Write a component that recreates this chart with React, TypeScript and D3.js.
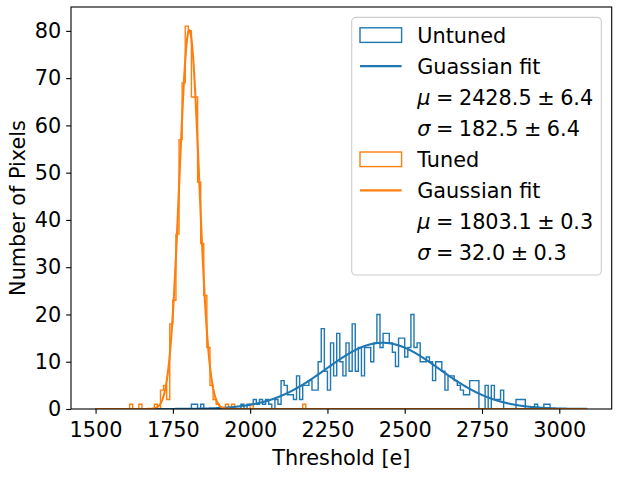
import { useEffect, useRef } from 'react';
import * as d3 from 'd3';

// Threshold histogram: 10 e bins from 1500 e to 3090 e
const binStart = 1500;
const binEnd = 3090;
const binWidth = 10;

// Non-empty bins of the untuned scan, as [lower edge, pixels]
const untunedBins: [number, number][] = [
    [1810, 1], [1820, 1], [1840, 1], [1970, 1], [1990, 1], [2000, 1],
    [2010, 2], [2020, 1], [2030, 2], [2040, 1], [2050, 2], [2060, 1], [2080, 2], [2090, 1],
    [2100, 6], [2110, 5], [2120, 3], [2130, 3], [2140, 2], [2150, 7], [2160, 2], [2170, 5], [2180, 5], [2190, 6],
    [2200, 4], [2210, 4], [2220, 10], [2230, 17], [2240, 8], [2250, 4], [2260, 14], [2270, 7], [2280, 16], [2290, 10],
    [2300, 7], [2310, 14], [2320, 8], [2330, 18], [2340, 8], [2350, 13], [2360, 7], [2370, 13], [2380, 13], [2390, 10],
    [2400, 14], [2410, 20], [2420, 13], [2430, 16], [2440, 16], [2450, 14], [2460, 12], [2470, 9], [2480, 15], [2490, 15],
    [2500, 11], [2510, 13], [2520, 20], [2530, 13], [2540, 14], [2550, 10], [2560, 10], [2570, 11], [2580, 10], [2590, 6],
    [2600, 10], [2610, 10], [2620, 8], [2630, 4], [2640, 7], [2650, 7], [2660, 6], [2670, 5], [2680, 4], [2690, 3],
    [2700, 3], [2710, 6], [2720, 6], [2730, 6], [2760, 5], [2780, 5], [2790, 2], [2800, 2], [2810, 4],
    [2860, 2], [2870, 2], [2880, 2], [2920, 1], [2950, 1], [2960, 1],
];

// Non-empty bins of the tuned scan
const tunedBins: [number, number][] = [
    [1610, 1], [1640, 1], [1690, 1], [1710, 4], [1720, 5], [1730, 2], [1740, 18], [1750, 23],
    [1760, 37], [1770, 57], [1780, 69], [1790, 81], [1800, 80], [1810, 66], [1820, 66], [1830, 48],
    [1840, 35], [1850, 24], [1860, 13], [1870, 5], [1880, 2], [1890, 1], [1920, 1], [1940, 1],
    [2000, 1], [2170, 1],
];

// Gaussian fit results, untuned first
const seriesNames = ['Untuned', 'Tuned'];
const fitNames = ['Guassian fit', 'Gaussian fit'];
const fitMu = [2428.5, 1803.1];
const fitMuErr = [6.4, 0.3];
const fitSigma = [182.5, 32.0];
const fitSigmaErr = [6.4, 0.3];
const seriesColors = ['#1f77b4', '#ff7f0e'];

const xTicks = [1500, 1750, 2000, 2250, 2500, 2750, 3000];
const yTicks = [0, 10, 20, 30, 40, 50, 60, 70, 80];

interface Bin {
    x0: number;
    x1: number;
    count: number;
}

function fillBins(pairs: [number, number][]): Bin[] {
    const lookup = new Map(pairs);
    return d3.range(binStart, binEnd, binWidth).map(e => ({ x0: e, x1: e + binWidth, count: lookup.get(e) ?? 0 }));
}

export default function App() {
    const svgRef = useRef<SVGSVGElement | null>(null);

    useEffect(() => {
        if (!svgRef.current) return;
        const svg = d3.select(svgRef.current);
        svg.selectAll('*').remove();

        const fs = 20.8; // 15 pt
        const font = '"DejaVu Sans", sans-serif';
        const plot = { left: 71, right: 611.7, top: 7, bottom: 409 };
        const tickLen = 4.86;

        const hists = [fillBins(untunedBins), fillBins(tunedBins)];
        const yMax = (d3.max(hists.flat(), d => d.count) ?? 0) * 1.05;
        const span = binEnd - binStart;

        const x = d3.scaleLinear().domain([binStart - 0.05 * span, binEnd + 0.05 * span]).range([plot.left, plot.right]);
        const y = d3.scaleLinear().domain([0, yMax]).range([plot.bottom, plot.top]);

        svg.append('defs').append('clipPath').attr('id', 'plot-clip')
            .append('rect')
            .attr('x', plot.left).attr('y', plot.top)
            .attr('width', plot.right - plot.left).attr('height', plot.bottom - plot.top);

        const area = svg.append('g').attr('clip-path', 'url(#plot-clip)');
        const line = d3.line<[number, number]>().x(d => x(d[0])).y(d => y(d[1]));

        // step outlines first (patches), fitted curves above them
        hists.forEach((bins, i) => {
            const pts: [number, number][] = [[binStart, 0]];
            bins.forEach(b => { pts.push([b.x0, b.count], [b.x1, b.count]); });
            pts.push([binEnd, 0]);
            area.append('path')
                .attr('d', line(pts))
                .attr('fill', 'none')
                .attr('stroke', seriesColors[i])
                .attr('stroke-width', 1.4)
                .attr('stroke-linejoin', 'miter');
        });

        hists.forEach((bins, i) => {
            const total = d3.sum(bins, b => b.count);
            const amp = total * binWidth / (fitSigma[i] * Math.sqrt(2 * Math.PI));
            const pts: [number, number][] = d3.range(binStart, binEnd + 0.5, 1).map(t =>
                [t, amp * Math.exp(-0.5 * ((t - fitMu[i]) / fitSigma[i]) ** 2)]);
            area.append('path')
                .attr('d', line(pts))
                .attr('fill', 'none')
                .attr('stroke', seriesColors[i])
                .attr('stroke-width', 2.1)
                .attr('stroke-linejoin', 'round');
        });

        // axes
        const xAxis = svg.append('g').attr('transform', `translate(0,${plot.bottom})`)
            .call(d3.axisBottom(x).tickValues(xTicks).tickSize(tickLen).tickPadding(tickLen + 4).tickFormat(d3.format('d')));
        const yAxis = svg.append('g').attr('transform', `translate(${plot.left},0)`)
            .call(d3.axisLeft(y).tickValues(yTicks).tickSize(tickLen).tickPadding(tickLen).tickFormat(d3.format('d')));
        [xAxis, yAxis].forEach(a => {
            a.select('.domain').remove();
            a.selectAll('line').attr('stroke', '#000').attr('stroke-width', 1.1);
            a.selectAll('text').attr('fill', '#000').style('font-family', font).style('font-size', `${fs}px`);
        });

        svg.append('rect')
            .attr('x', plot.left).attr('y', plot.top)
            .attr('width', plot.right - plot.left).attr('height', plot.bottom - plot.top)
            .attr('fill', 'none').attr('stroke', '#000').attr('stroke-width', 1.1);

        svg.append('text')
            .attr('x', (plot.left + plot.right) / 2).attr('y', 464.5)
            .attr('text-anchor', 'middle')
            .style('font-family', font).style('font-size', `${fs}px`)
            .text('Threshold [e]');

        svg.append('text')
            .attr('transform', `translate(24.5,${(plot.top + plot.bottom) / 2}) rotate(-90)`)
            .attr('text-anchor', 'middle')
            .style('font-family', font).style('font-size', `${fs}px`)
            .text('Number of Pixels');

        // legend
        const legend = svg.append('g');
        legend.append('rect')
            .attr('x', 351.7).attr('y', 17.4)
            .attr('width', 601.3 - 351.7).attr('height', 257.6)
            .attr('rx', 4.2)
            .attr('fill', 'white').attr('fill-opacity', 0.8)
            .attr('stroke', '#cccccc').attr('stroke-width', 1.1);

        const handleX = 360;
        const handleW = 2.0 * fs;
        const textX = handleX + handleW + 0.8 * fs - 1;
        const rowStep = 31.05;
        const firstBase = 42.6;
        const opPad = 5.5;

        const addText = (yy: number) => legend.append('text')
            .attr('x', textX).attr('y', yy)
            .style('font-family', font).style('font-size', `${fs}px`);

        const mathRow = (yy: number, sym: string, val: number, err: number) => {
            const t = addText(yy);
            t.append('tspan').style('font-style', 'italic').text(sym);
            t.append('tspan').attr('dx', opPad).text('=');
            t.append('tspan').attr('dx', opPad).text(val.toFixed(1));
            t.append('tspan').attr('dx', opPad).text('±');
            t.append('tspan').attr('dx', opPad).text(err.toFixed(1));
        };

        seriesNames.forEach((name, i) => {
            const base = firstBase + rowStep * 4 * i;
            const mid = base - 7.5;
            legend.append('rect')
                .attr('x', handleX).attr('y', mid - 0.35 * fs)
                .attr('width', handleW).attr('height', 0.7 * fs)
                .attr('fill', 'none').attr('stroke', seriesColors[i]).attr('stroke-width', 1.4);
            addText(base).text(name);

            const fitMid = base + rowStep - 7.5;
            legend.append('line')
                .attr('x1', handleX).attr('x2', handleX + handleW)
                .attr('y1', fitMid).attr('y2', fitMid)
                .attr('stroke', seriesColors[i]).attr('stroke-width', 2.1);
            addText(base + rowStep).text(fitNames[i]);

            mathRow(base + rowStep * 2, 'μ', fitMu[i], fitMuErr[i]);
            mathRow(base + rowStep * 3, 'σ', fitSigma[i], fitSigmaErr[i]);
        });

        return () => {
            svg.selectAll('*').remove();
        };
    }, []);

    return (
        <svg
            ref={svgRef}
            width={620}
            height={498}
            style={{ position: 'absolute', left: 0, top: 0, background: 'white' }}
        />
    );
}
